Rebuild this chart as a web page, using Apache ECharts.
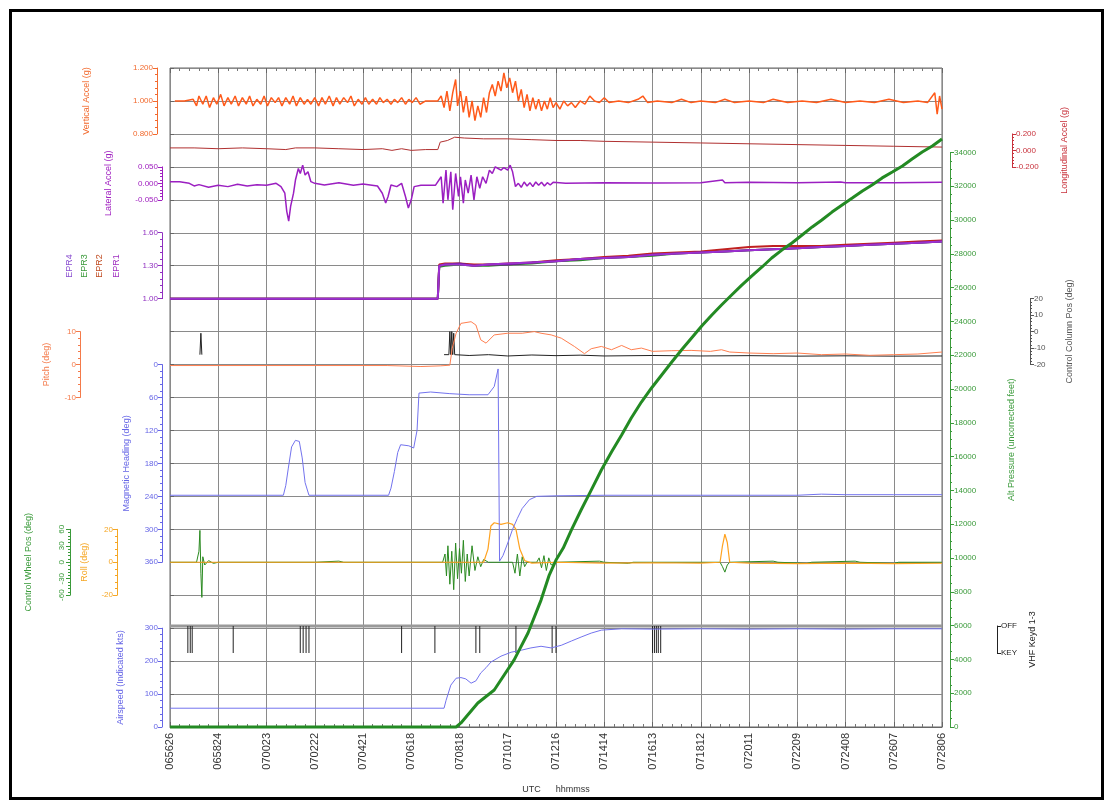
<!DOCTYPE html>
<html><head><meta charset="utf-8">
<script src="https://cdn.jsdelivr.net/npm/echarts@6/dist/echarts.min.js"></script>
<style>html,body{margin:0;padding:0;background:#fff}#c{width:1108px;height:803px}</style>
</head><body><div id="c"></div>
<script>
// ---- time axis (x in units of label intervals) ----
const xTickLabels = ['065626','065824','070023','070222','070421','070618','070818','071017','071216','071414','071613','071812','072011','072209','072408','072607','072806'];

// ---- data: [time index, value] ----
const vertAccel = [[0.10,1.00],[0.30,1.00],[0.48,1.01],[0.55,0.97],[0.60,1.03],[0.68,0.98],[0.75,1.03],[0.82,0.96],[0.90,1.02],[0.97,0.98],[1.05,1.04],[1.12,0.97],[1.20,1.02],[1.27,0.98],[1.35,1.03],[1.42,0.97],[1.50,1.02],[1.58,0.98],[1.65,1.03],[1.72,0.97],[1.80,1.01],[1.88,0.98],[1.95,1.03],[2.02,0.97],[2.10,1.02],[2.18,0.99],[2.25,1.02],[2.32,0.97],[2.40,1.02],[2.48,0.98],[2.55,1.03],[2.62,0.97],[2.70,1.02],[2.78,0.98],[2.85,1.01],[2.92,0.98],[3.00,1.02],[3.08,0.97],[3.15,1.02],[3.22,0.98],[3.30,1.03],[3.38,0.97],[3.45,1.02],[3.52,0.98],[3.60,1.02],[3.68,0.99],[3.75,1.03],[3.82,0.97],[3.90,1.01],[3.98,0.98],[4.05,1.02],[4.12,0.98],[4.20,1.01],[4.28,0.98],[4.35,1.02],[4.42,0.99],[4.50,1.01],[4.58,0.98],[4.65,1.01],[4.72,0.99],[4.80,1.02],[4.88,0.98],[4.95,1.01],[5.02,0.99],[5.10,1.02],[5.18,0.98],[5.30,1.00],[5.55,1.00],
 [5.62,1.03],[5.68,0.96],[5.74,1.06],[5.80,0.94],[5.86,1.05],[5.92,1.13],[5.96,0.97],[6.02,1.06],[6.08,0.93],[6.14,1.03],[6.20,0.90],[6.26,1.00],[6.32,0.88],[6.38,0.97],[6.44,0.90],[6.50,1.02],[6.56,0.93],[6.62,1.05],[6.68,1.10],[6.74,1.03],[6.80,1.12],[6.86,1.06],[6.92,1.17],[6.98,1.08],[7.04,1.14],[7.10,1.05],[7.16,1.12],[7.22,1.00],[7.28,1.07],[7.34,0.96],[7.40,1.04],[7.46,0.94],[7.52,1.02],[7.58,0.95],[7.64,1.01],[7.70,0.94],[7.76,1.00],[7.82,0.95],[7.88,1.02],[7.94,0.96],[8.00,0.99],[8.08,0.95],[8.16,1.00],[8.24,0.97],[8.32,0.99],[8.40,0.96],[8.50,1.00],[8.60,0.98],[8.70,1.03],[8.80,1.00],[8.90,0.99],[9.00,1.02],[9.10,0.99],[9.30,1.00],[9.50,0.99],[9.70,1.01],[9.80,1.03],[9.90,0.99],[10.10,1.00],[10.40,0.99],[10.60,1.01],[10.80,0.99],[11.00,1.00],[11.30,0.99],[11.50,1.01],[11.70,0.99],[12.00,1.00],[12.30,0.99],[12.50,1.01],[12.80,0.99],[13.10,1.00],[13.40,0.99],[13.70,1.01],[14.00,0.99],[14.30,1.00],[14.60,0.99],[14.90,1.01],[15.20,0.99],[15.50,1.00],[15.70,0.99],[15.85,1.05],[15.90,0.92],[15.95,1.03],[16.00,0.95]];

const longAccel = [[0.0,0.03],[0.5,0.03],[1.0,0.02],[1.5,0.03],[2.0,0.02],[2.4,0.01],[2.6,0.03],[3.0,0.03],[3.5,0.02],[4.0,0.01],[4.4,0.02],[4.6,0.00],[4.8,0.02],[5.0,0.00],[5.3,0.01],[5.55,0.01],[5.60,0.10],[5.75,0.12],[5.90,0.16],[6.1,0.15],[6.5,0.14],[7.0,0.14],[7.5,0.13],[8.0,0.12],[8.5,0.12],[9.0,0.11],[10.0,0.10],[11.0,0.09],[12.0,0.08],[13.0,0.07],[14.0,0.06],[15.0,0.05],[16.0,0.04]];

const latAccel = [[0.0,0.005],[0.2,0.005],[0.4,0.000],[0.5,-0.008],[0.6,-0.004],[0.8,-0.012],[1.0,-0.006],[1.2,-0.010],[1.4,-0.003],[1.6,-0.008],[1.8,-0.004],[2.0,-0.006],[2.2,0.000],[2.3,-0.010],[2.38,-0.030],[2.42,-0.085],[2.46,-0.115],[2.50,-0.070],[2.56,-0.030],[2.60,0.010],[2.66,0.045],[2.70,0.030],[2.75,0.055],[2.80,0.025],[2.86,0.035],[2.92,0.005],[3.0,0.000],[3.2,-0.005],[3.5,0.002],[3.8,-0.006],[4.0,-0.002],[4.3,-0.008],[4.40,-0.030],[4.47,-0.060],[4.52,-0.040],[4.58,-0.005],[4.70,-0.010],[4.80,0.000],[4.88,-0.040],[4.94,-0.075],[5.00,-0.050],[5.06,-0.010],[5.2,-0.006],[5.5,-0.006],[5.62,0.020],[5.66,-0.060],[5.72,0.040],[5.76,-0.050],[5.82,0.035],[5.86,-0.080],[5.92,0.030],[5.98,-0.040],[6.02,0.020],[6.08,-0.060],[6.12,0.010],[6.18,-0.030],[6.24,0.025],[6.30,-0.050],[6.36,0.020],[6.42,-0.015],[6.48,0.020],[6.55,0.000],[6.62,0.040],[6.68,0.030],[6.74,0.050],[6.80,0.045],[6.86,0.040],[6.92,0.048],[7.00,0.040],[7.05,0.055],[7.10,0.035],[7.16,-0.010],[7.22,0.000],[7.28,-0.012],[7.34,0.004],[7.40,-0.008],[7.46,0.002],[7.52,-0.010],[7.58,0.004],[7.64,-0.006],[7.70,0.003],[7.76,-0.008],[7.82,0.002],[7.88,-0.005],[7.94,0.003],[8.2,0.000],[9.0,0.002],[10.0,0.001],[11.0,0.002],[11.45,0.010],[11.5,0.002],[12.0,0.003],[13.0,0.002],[13.9,0.004],[14.0,0.002],[15.0,0.002],[16.0,0.003]];

const epr1 = [[0,1.00],[5.55,1.00],[5.58,1.30],[5.7,1.31],[6.0,1.32],[6.3,1.30],[6.6,1.31],[7.0,1.31],[7.5,1.33],[8.0,1.34],[8.5,1.36],[9.0,1.37],[9.5,1.38],[10.0,1.40],[10.5,1.41],[11.0,1.42],[11.5,1.43],[12.0,1.44],[12.5,1.45],[13.0,1.46],[13.5,1.47],[14.0,1.48],[14.5,1.49],[15.0,1.50],[15.5,1.51],[16.0,1.52]];
const epr2 = [[0,1.00],[5.55,1.00],[5.58,1.31],[5.7,1.32],[6.0,1.32],[6.3,1.31],[6.6,1.31],[7.0,1.32],[7.5,1.33],[8.0,1.35],[8.5,1.36],[9.0,1.38],[9.5,1.39],[10.0,1.41],[10.5,1.42],[11.0,1.43],[11.5,1.45],[12.0,1.47],[12.5,1.48],[13.0,1.48],[13.5,1.48],[14.0,1.49],[14.5,1.50],[15.0,1.51],[15.5,1.52],[16.0,1.53]];
const epr3 = [[0,1.00],[5.55,1.00],[5.58,1.29],[5.7,1.30],[6.0,1.31],[6.3,1.30],[6.6,1.30],[7.0,1.31],[7.5,1.32],[8.0,1.34],[8.5,1.35],[9.0,1.37],[9.5,1.38],[10.0,1.39],[10.5,1.41],[11.0,1.42],[11.5,1.43],[12.0,1.44],[12.5,1.45],[13.0,1.46],[13.5,1.47],[14.0,1.48],[14.5,1.49],[15.0,1.50],[15.5,1.51],[16.0,1.52]];
const epr4 = [[0,1.00],[5.55,1.00],[5.58,1.30],[5.7,1.31],[6.0,1.31],[6.3,1.30],[6.6,1.31],[7.0,1.32],[7.5,1.33],[8.0,1.34],[8.5,1.36],[9.0,1.37],[9.5,1.38],[10.0,1.40],[10.5,1.41],[11.0,1.42],[11.5,1.43],[12.0,1.44],[12.5,1.45],[13.0,1.46],[13.5,1.47],[14.0,1.48],[14.5,1.49],[15.0,1.50],[15.5,1.51],[16.0,1.52]];

const pitch = [[0,-0.3],[4.5,-0.3],[5.2,-0.6],[5.6,-0.4],[5.80,-0.2],[5.85,5.0],[5.93,9.5],[6.03,12.5],[6.24,13.0],[6.34,12.0],[6.44,7.5],[6.55,6.5],[6.72,9.0],[7.0,9.5],[7.3,9.5],[7.55,10.0],[7.69,9.5],[7.90,9.0],[8.11,8.0],[8.38,5.5],[8.59,3.3],[8.73,4.8],[8.94,5.5],[9.15,4.5],[9.36,5.8],[9.56,4.5],[9.77,5.0],[10.0,4.0],[10.4,4.2],[10.8,4.3],[11.2,4.0],[11.43,4.5],[11.6,3.8],[12.0,3.5],[12.5,3.3],[13.0,3.5],[13.5,3.0],[14.0,3.2],[14.5,2.8],[15.0,3.0],[15.5,3.2],[16.0,3.8]];

const ctrlColumn = [[0.62,-14],[0.64,-1],[0.66,-14],null,[5.68,-14],[5.78,-14],[5.80,0],[5.82,-14],[5.84,0],[5.86,-14],[5.88,-1],[5.90,-14],[6.2,-14.5],[6.6,-14],[7.0,-14.8],[7.5,-14.2],[8.0,-14.6],[8.5,-14.3],[9.0,-14.8],[10.0,-14.5],[11.0,-14.8],[12.0,-14.6],[13.0,-14.9],[14.0,-14.7],[15.0,-14.9],[16.0,-14.8]];

const heading = [[0,238],[2.35,238],[2.40,220],[2.45,190],[2.52,150],[2.60,138],[2.68,140],[2.74,170],[2.80,215],[2.88,238],[4.53,238],[4.58,225],[4.65,195],[4.72,160],[4.78,146],[4.95,148],[5.05,152],[5.12,120],[5.16,52],[5.40,50],[5.8,53],[6.2,55],[6.59,55],[6.72,40],[6.80,8],[6.83,358],[6.90,348],[7.00,325],[7.10,300],[7.20,280],[7.30,262],[7.45,246],[7.60,240],[8.0,239],[9.0,238],[10.0,238],[11.0,238],[12.0,238],[13.0,238],[13.5,236],[14.0,237],[15.0,237],[16.0,237]];

const roll = [[0,0],[6.5,0],[6.59,8],[6.65,22],[6.72,24],[6.86,23],[7.0,24],[7.10,23],[7.17,20],[7.25,8],[7.35,1],[7.5,-0.5],[8.0,0],[9.0,-0.5],[10.0,-0.3],[11.0,-0.5],[11.40,0],[11.45,10],[11.50,17],[11.55,12],[11.60,0],[12.0,-0.5],[13.0,-0.8],[14.0,-0.5],[15.0,-0.8],[16.0,-0.6]];

const ctrlWheel = [[0,0],[0.55,0],[0.60,20],[0.62,58],[0.64,-20],[0.66,-64],[0.68,10],[0.72,-5],[0.80,3],[0.90,-2],[1.0,0],[3.0,0],[3.5,2],[3.6,0],[5.65,0],[5.70,15],[5.73,-25],[5.76,30],[5.80,-40],[5.84,20],[5.88,-50],[5.92,35],[5.96,-30],[6.00,25],[6.04,-20],[6.08,40],[6.12,-35],[6.16,15],[6.20,-25],[6.26,30],[6.32,-15],[6.38,10],[6.44,-8],[6.50,5],[6.60,0],[7.10,0],[7.15,-20],[7.20,15],[7.25,-25],[7.30,10],[7.35,-8],[7.40,0],[7.60,0],[7.65,8],[7.70,-10],[7.75,12],[7.80,-15],[7.85,8],[7.90,-5],[8.0,0],[8.9,2],[9.0,0],[9.5,-2],[9.6,0],[11.40,0],[11.45,-8],[11.50,-18],[11.55,-5],[11.60,0],[12.5,2],[12.6,0],[13.2,-2],[13.3,0],[14.2,2],[14.3,0],[15.0,-2],[15.1,0],[16,0]];

const airspeed = [[0,57],[5.68,57],[5.72,80],[5.82,127],[5.93,148],[6.03,150],[6.13,146],[6.24,133],[6.34,140],[6.44,164],[6.55,180],[6.65,197],[6.86,215],[7.07,227],[7.28,233],[7.48,240],[7.69,245],[7.90,240],[8.11,248],[8.32,261],[8.52,273],[8.73,285],[8.94,294],[9.36,298],[10,297],[11,298],[12,297],[13,298],[14,297],[15,298],[16,298]];

const vhfKeyTimes = [0.37,0.42,0.46,1.31,2.70,2.76,2.82,2.88,4.80,5.49,6.34,6.42,7.17,7.92,8.00,10.00,10.04,10.08,10.12,10.17];

const altitude = [[0,0],[5.93,0],[6.03,240],[6.38,1420],[6.72,2190],[7.13,3960],[7.42,5560],[7.69,7510],[7.86,8990],[8.00,9880],[8.15,10590],[8.32,11660],[8.52,12840],[8.73,14020],[8.94,15210],[9.15,16270],[9.36,17280],[9.56,18280],[9.77,19230],[9.98,20060],[10.19,20830],[10.40,21600],[10.60,22310],[10.81,23020],[11.02,23730],[11.23,24380],[11.43,24970],[11.64,25560],[11.85,26150],[12.06,26690],[12.27,27220],[12.47,27750],[12.68,28220],[12.89,28640],[13.10,29110],[13.31,29590],[13.51,30000],[13.72,30470],[13.93,30890],[14.14,31300],[14.35,31720],[14.55,32070],[14.76,32490],[14.97,32840],[15.18,33200],[15.38,33610],[15.59,34020],[15.80,34380],[16.0,34790]];

// ---- layout ----
const L = 170, W = 772, TOP = 68, H = 659, U = H / 20;
const yAt = i => 727 - U * i;
const FONT = 'Liberation Sans';

const gridDefs = [
  [TOP, H],                         // 0 main
  [yAt(20), 2 * U],                 // 1 vertical accel
  [yAt(17), U],                     // 2 lateral accel
  [yAt(18), U],                     // 3 longitudinal accel
  [yAt(15), 2 * U],                 // 4 EPR
  [yAt(12), 2 * U],                 // 5 pitch
  [yAt(13), 2 * U],                 // 6 control column
  [yAt(11), 6 * U],                 // 7 heading
  [yAt(6), 2 * U],                  // 8 roll
  [yAt(6), 2 * U],                  // 9 control wheel
  [626, 27],                        // 10 VHF
  [yAt(3), 3 * U],                  // 11 airspeed
  [727 - 574.6, 574.6]              // 12 altitude
];

const grids = gridDefs.map(([t, h], i) => ({
  left: L, width: W, top: t, height: h, show: i === 0,
  borderColor: '#666', borderWidth: 1, backgroundColor: 'transparent'
}));

const xAxes = [
  { gridIndex: 0, type: 'value', min: 0, max: 16, interval: 1, position: 'bottom',
    axisLine: { lineStyle: { color: '#666' } },
    axisTick: { inside: true, length: 5, lineStyle: { color: '#666' } },
    minorTick: { show: true, splitNumber: 5, length: 3, lineStyle: { color: '#777' } },
    splitLine: { show: true, lineStyle: { color: '#8a8a8a', width: 1 } },
    axisLabel: { rotate: 90, fontSize: 11, color: '#333', fontFamily: FONT, margin: 6,
      formatter: v => xTickLabels[Math.round(v)] || '' },
    name: 'UTC      hhmmss', nameLocation: 'middle', nameGap: 58,
    nameTextStyle: { fontSize: 9, color: '#333', fontFamily: FONT } },
  { gridIndex: 0, type: 'value', min: 0, max: 16, interval: 1, position: 'top',
    axisLine: { show: false }, axisLabel: { show: false }, splitLine: { show: false },
    axisTick: { inside: true, length: 5, lineStyle: { color: '#666' } },
    minorTick: { show: true, splitNumber: 5, length: 3, lineStyle: { color: '#777' } } }
];
for (let g = 1; g < gridDefs.length; g++) {
  xAxes.push({ gridIndex: g, type: 'value', min: 0, max: 16, show: false });
}
const xi = g => g + 1;

const fix = d => (v => { const a = Math.abs(v) < 1e-9 ? 0 : v; return a.toFixed(d); });

function subY(g, o) {
  return {
    gridIndex: g, type: 'value', min: o.min, max: o.max, interval: o.interval,
    inverse: !!o.inverse, position: o.pos, offset: o.offset,
    name: o.name || '', nameLocation: 'middle', nameGap: o.gap || 30, nameRotate: 90,
    nameTextStyle: { color: o.color, fontSize: 9, fontFamily: FONT },
    axisLine: { show: true, onZero: false, lineStyle: { color: o.color } },
    axisTick: { show: true, length: 4, lineStyle: { color: o.color } },
    minorTick: { show: true, splitNumber: o.minor || 5, length: 2, lineStyle: { color: o.color } },
    splitLine: { show: false },
    axisLabel: { color: o.color, fontSize: 8, fontFamily: FONT, margin: 4,
      rotate: o.rotate || 0, formatter: o.fmt || (v => String(Math.abs(v) < 1e-9 ? 0 : v)) }
  };
}

const C = {
  vacc: '#f26a2e', lat: '#a020c0', lon: '#c8323c', epr: '#9030c0', pitch: '#f47a4a',
  col: '#555555', hdg: '#6666e6', roll: '#f5a623', wheel: '#3a9a3a', vhf: '#222222',
  as: '#6666e6', alt: '#3a9a3a'
};

const yAxes = [
  { gridIndex: 0, type: 'value', min: 0, max: 20, interval: 1,
    axisLine: { show: false }, axisLabel: { show: false },
    axisTick: { inside: true, length: 4, lineStyle: { color: '#666' } },
    splitLine: { show: true, lineStyle: { color: '#8a8a8a', width: 1 } } },
  subY(1, { min: 0.8, max: 1.2, interval: 0.2, pos: 'left', offset: 13, name: 'Vertical Accel (g)', color: C.vacc, gap: 66, fmt: fix(3) }),
  subY(2, { min: -0.05, max: 0.05, interval: 0.05, pos: 'left', offset: 8, name: 'Lateral Accel (g)', color: C.lat, gap: 49, fmt: fix(3) }),
  subY(3, { min: -0.2, max: 0.2, interval: 0.2, pos: 'right', offset: 70, name: 'Longitudinal Accel (g)', color: C.lon, gap: 48, fmt: fix(3) }),
  subY(4, { min: 1.0, max: 1.6, interval: 0.3, pos: 'left', offset: 8, name: '', color: C.epr, fmt: fix(2) }),
  subY(5, { min: -10, max: 10, interval: 10, pos: 'left', offset: 90, name: 'Pitch (deg)', color: C.pitch, gap: 29 }),
  subY(6, { min: -20, max: 20, interval: 10, pos: 'right', offset: 88, name: 'Control Column Pos (deg)', color: C.col, gap: 35 }),
  subY(7, { min: 0, max: 360, interval: 60, inverse: true, pos: 'left', offset: 8, name: 'Magnetic Heading (deg)', color: C.hdg, gap: 31 }),
  subY(8, { min: -20, max: 20, interval: 20, pos: 'left', offset: 53, name: 'Roll (deg)', color: C.roll, gap: 28 }),
  subY(9, { min: -60, max: 60, interval: 30, pos: 'left', offset: 100, name: 'Control Wheel Pos (deg)', color: C.wheel, gap: 37, rotate: 90 }),
  subY(10, { min: 0, max: 1, interval: 1, pos: 'right', offset: 55, name: 'VHF Keyd 1-3', color: C.vhf, gap: 25, minor: 1, fmt: v => (v === 1 ? 'OFF' : 'KEY') }),
  subY(11, { min: 0, max: 300, interval: 100, pos: 'left', offset: 8, name: 'Airspeed (Indicated kts)', color: C.as, gap: 37 }),
  subY(12, { min: 0, max: 34000, interval: 2000, pos: 'right', offset: 8, name: 'Alt Pressure (uncorrected feet)', color: C.alt, gap: 57, minor: 4 })
];

// VHF keyed pulses built from key times
const vhfPulses = [];
vhfKeyTimes.forEach(t => { vhfPulses.push([t, 1], [t, 0], null); });

function line(g, data, color, width, name, z) {
  return { type: 'line', name: name, xAxisIndex: xi(g), yAxisIndex: g, data: data,
    showSymbol: false, symbol: 'none', clip: false, connectNulls: false, z: z || 2,
    lineStyle: { color: color, width: width || 1 }, itemStyle: { color: color },
    emphasis: { disabled: true } };
}

const series = [
  line(10, [[0, 1], [16, 1]], '#9a9a9a', 3, 'VHF Keyd 1-3 (OFF)'),
  line(10, vhfPulses, '#222', 1, 'VHF Keyd 1-3'),
  line(11, airspeed, '#7373ee', 1, 'Airspeed'),
  line(9, ctrlWheel, '#2a8a20', 1, 'Control Wheel Pos'),
  line(8, roll, '#ffa21f', 1.2, 'Roll'),
  line(7, heading, '#7373ee', 1, 'Magnetic Heading'),
  line(6, ctrlColumn, '#222', 1, 'Control Column Pos'),
  line(5, pitch, '#ff7f50', 1, 'Pitch'),
  line(4, epr3, '#2a8a2a', 2, 'EPR3'),
  line(4, epr2, '#c02020', 2, 'EPR2'),
  line(4, epr1, '#6a1a90', 2, 'EPR1'),
  line(4, epr4, '#9b30d0', 2, 'EPR4'),
  line(3, longAccel, '#b03030', 1, 'Longitudinal Accel'),
  line(2, latAccel, '#9b1fc1', 1.5, 'Lateral Accel'),
  line(1, vertAccel, '#ff5a1a', 1.5, 'Vertical Accel'),
  line(12, altitude, '#238a23', 3, 'Pressure Altitude', 5)
];

const eprLegend = [['EPR4', '#8a4fd0', 70], ['EPR3', '#3a9a3a', 85], ['EPR2', '#c04a20', 100], ['EPR1', '#a030c0', 117]];
const graphics = [
  { type: 'rect', left: 8, top: 8, shape: { width: 1092, height: 788 }, style: { fill: 'none', stroke: '#000', lineWidth: 3 }, silent: true, z: 100 }
];
eprLegend.forEach(([t, c, x]) => graphics.push({
  type: 'text', x: x, y: 266, rotation: Math.PI / 2,
  style: { text: t, fill: c, font: '9px ' + FONT, textAlign: 'center', textVerticalAlign: 'middle' }
}));

const chart = echarts.init(document.getElementById('c'), null, { renderer: 'canvas' });
chart.setOption({
  animation: false,
  backgroundColor: '#ffffff',
  textStyle: { fontFamily: FONT },
  grid: grids, xAxis: xAxes, yAxis: yAxes, series: series, graphic: graphics
});
</script></body></html>
